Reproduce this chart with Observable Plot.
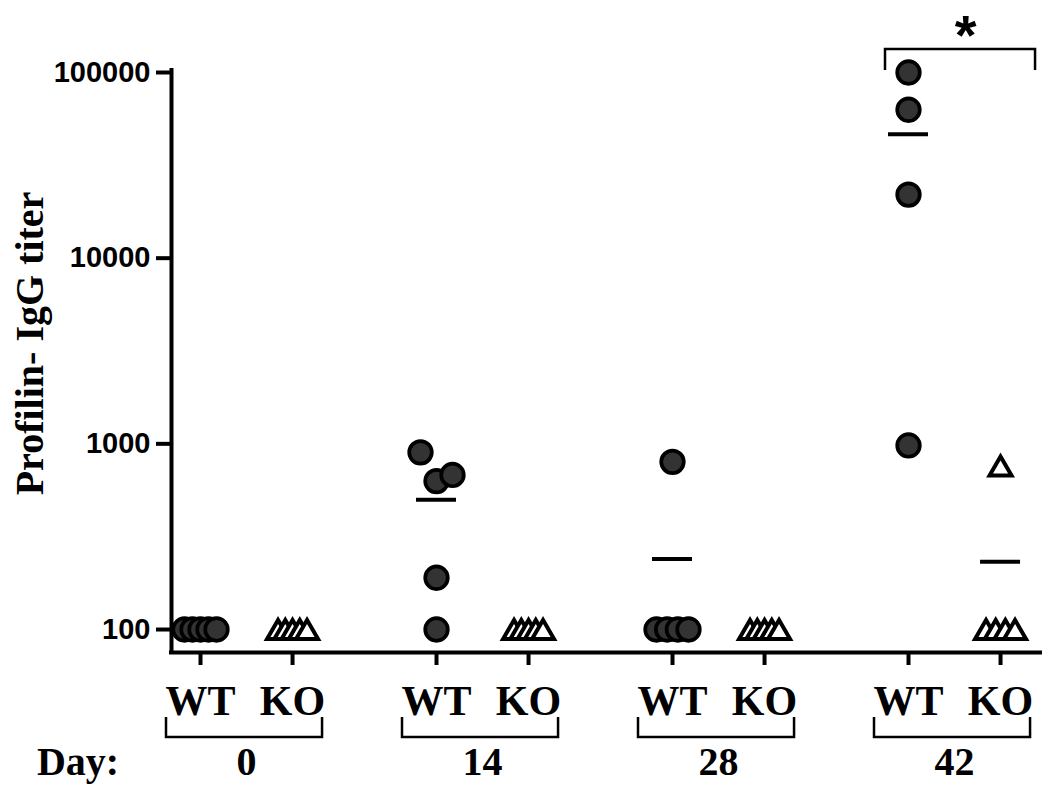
<!DOCTYPE html>
<html><head><meta charset="utf-8">
<script src="https://cdn.jsdelivr.net/npm/d3@7"></script>
<script src="https://cdn.jsdelivr.net/npm/@observablehq/plot@0.6"></script>
<style>body{margin:0;background:#fff}</style>
</head><body><div id="chart"></div>
<script>
// ---- data ----
const days = ["0", "14", "28", "42"];
const genotypes = ["WT", "KO"];
const wtTiters = [
  [100, 100, 100, 100, 100],
  [900, 630, 680, 190, 100],
  [800, 100, 100, 100, 100],
  [100000, 63000, 22000, 980]
];
const koTiters = [
  [100, 100, 100, 100, 100],
  [100, 100, 100, 100, 100],
  [100, 100, 100, 100, 100],
  [760, 100, 100, 100, 100]
];
const yTicks = [100, 1000, 10000, 100000];
const yTitle = "Profilin- IgG titer";
const dayLabel = "Day:";
const sigLabel = "*";
const sigDay = "42";

// ---- layout ----
const W = 1050, H = 792, mL = 171, mR = 10, mT = 70, mB = 140;
const xDomain = [-0.1229, 3.5593];
const yDomain = [75.2, 102500];
const pxPerUnit = (W - mL - mR) / (xDomain[1] - xDomain[0]);
const koOffset = 0.39;
const slotOf = (di, g) => di + (g === "KO" ? koOffset : 0);

// horizontal spreading of overlapping points (scatter-dot style)
function spread(values, span) {
  const clusters = [];
  values.forEach((v, i) => {
    let c = clusters.find(cl => cl.some(j => Math.abs(Math.log10(values[j]) - Math.log10(v)) < 0.13));
    if (!c) { c = []; clusters.push(c); }
    c.push(i);
  });
  const off = new Array(values.length).fill(0);
  clusters.forEach(cl => {
    const n = cl.length;
    if (n > 1) cl.forEach((j, k) => off[j] = (k - (n - 1) / 2) * span / (n - 1));
  });
  return off;
}

const points = [], means = [], slots = [];
days.forEach((day, di) => {
  [["WT", wtTiters[di], 32], ["KO", koTiters[di], 29]].forEach(([g, vals, span]) => {
    const slot = slotOf(di, g);
    slots.push({slot, genotype: g});
    const off = spread(vals, span);
    vals.forEach((v, i) => points.push({day, genotype: g, value: v, x: slot + off[i] / pxPerUnit}));
    means.push({day, genotype: g, slot, mean: d3.mean(vals)});
  });
});
const dayCenters = days.map((day, di) => ({day, center: (slotOf(di, "WT") + slotOf(di, "KO")) / 2}));

const triangle = {
  draw(context, size) {
    const r = Math.sqrt(size / Math.PI);
    const s = 2 * r, h = s * Math.sqrt(3) / 2;
    context.moveTo(0, -h / 2);
    context.lineTo(s / 2, h / 2);
    context.lineTo(-s / 2, h / 2);
    context.closePath();
  }
};

const serif = "Liberation Serif, Times New Roman, serif";
const sans = "Liberation Sans, Arial, sans-serif";
const txt = {textAnchor: "middle", lineAnchor: "middle", fontWeight: "bold", fill: "#000"};
const sigIdx = days.indexOf(sigDay);
const sigX1 = slotOf(sigIdx, "WT") - 23 / pxPerUnit;
const sigX2 = slotOf(sigIdx, "KO") + 35 / pxPerUnit;

const fig = Plot.plot({
  width: W, height: H,
  marginLeft: mL, marginRight: mR, marginTop: mT, marginBottom: mB,
  style: {background: "#fff", color: "#000"},
  x: {type: "linear", domain: xDomain},
  y: {type: "log", domain: yDomain},
  marks: [
    Plot.ruleY(means, {x1: d => d.slot - 20 / pxPerUnit, x2: d => d.slot + 20 / pxPerUnit, y: "mean", stroke: "#000", strokeWidth: 4}),
    Plot.dot(points.filter(d => d.genotype === "WT"), {x: "x", y: "value", r: 11.3, fill: "#333", stroke: "#000", strokeWidth: 3.7}),
    Plot.dot(points.filter(d => d.genotype === "KO"), {x: "x", y: "value", r: 11, symbol: triangle, fill: "#fff", stroke: "#000", strokeWidth: 4}),
    Plot.ruleX([xDomain[0]], {stroke: "#000", strokeWidth: 4, strokeLinecap: "square"}),
    Plot.ruleY([yDomain[0]], {stroke: "#000", strokeWidth: 4, strokeLinecap: "square"}),
    Plot.axisY({ticks: yTicks, tickSize: 15, tickPadding: 6, stroke: "#000", strokeWidth: 4, fontSize: 29, fontWeight: "bold", fontFamily: sans, tickFormat: d => String(d), label: null}),
    Plot.axisX({ticks: slots.map(s => s.slot), tickSize: 13, stroke: "#000", strokeWidth: 4, tickFormat: () => "", label: null}),
    Plot.text(slots, {...txt, x: "slot", text: "genotype", frameAnchor: "bottom", dy: 49, fontSize: 42, fontFamily: serif}),
    Plot.text(dayCenters, {...txt, x: "center", text: "day", frameAnchor: "bottom", dy: 110, fontSize: 40, fontFamily: serif}),
    Plot.text([dayLabel], {...txt, frameAnchor: "bottom-left", dx: -93.5, dy: 110, fontSize: 40, fontFamily: serif}),
    Plot.text([yTitle], {...txt, frameAnchor: "left", rotate: -90, dx: -141, dy: -18, fontSize: 40, fontFamily: serif}),
    Plot.text([sigLabel], {...txt, x: () => (sigX1 + sigX2) / 2 + 5 / pxPerUnit, frameAnchor: "top", dy: -34, fontSize: 56, fontFamily: sans})
  ]
});

// brackets drawn with the plot's own x scale
const xs = fig.scale("x");
const svg = d3.select(fig);
const bottom = H - mB;
days.forEach((day, di) => {
  const l = xs.apply(slotOf(di, "WT")) - 34, r = xs.apply(slotOf(di, "KO")) + 30;
  svg.append("path")
    .attr("d", `M${l},${bottom + 65}V${bottom + 85}H${r}V${bottom + 65}`)
    .attr("fill", "none").attr("stroke", "#000").attr("stroke-width", 2.5);
});
svg.append("path")
  .attr("d", `M${xs.apply(sigX1)},${mT}V${mT - 21}H${xs.apply(sigX2)}V${mT}`)
  .attr("fill", "none").attr("stroke", "#000").attr("stroke-width", 2.5);

document.getElementById("chart").appendChild(fig);
</script>
</body></html>
